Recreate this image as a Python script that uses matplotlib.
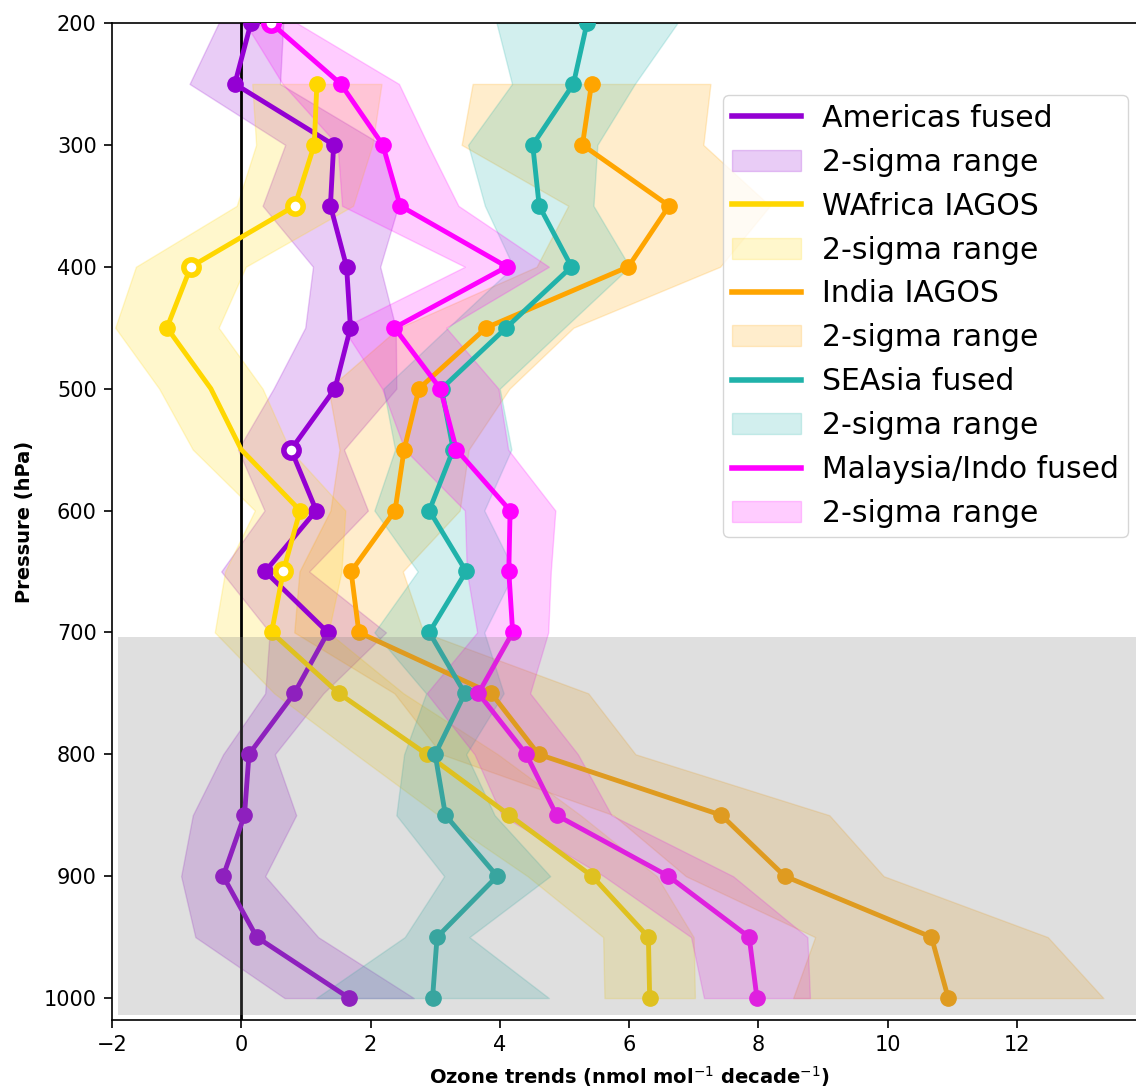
import numpy as np
import matplotlib
matplotlib.use("Agg")
import matplotlib.pyplot as plt
from matplotlib.lines import Line2D
from matplotlib.patches import Patch

nan = np.nan

# pressure levels (hPa)
pressure = [200, 250, 300, 350, 400, 450, 500, 550, 600,
            650, 700, 750, 800, 850, 900, 950, 1000]

# trends and 2-sigma half widths, one pair per region
americas = [0.15, -0.1, 1.43, 1.38, 1.63, 1.69, 1.45, 0.77, 1.16,
            0.37, 1.34, 0.82, 0.12, 0.05, -0.28, 0.24, 1.67]
americas_2s = [0.5, 0.7, 0.75, 1.05, 0.52, 0.7, 0.95, 0.82, 0.8,
               0.68, 0.9, 0.45, 0.4, 0.8, 0.65, 0.95, 1.0]

wafrica = [nan, 1.17, 1.13, 0.83, -0.78, -1.15, -0.47, 0.0, 0.91,
           0.65, 0.47, 1.51, 2.87, 4.15, 5.43, 6.3, 6.32]
wafrica_2s = [nan, 1.0, 0.9, 0.9, 0.85, 0.8, 0.8, 0.75, 0.7,
              0.9, 0.88, 1.0, 1.1, 1.1, 1.0, 0.7, 0.7]

india = [nan, 5.42, 5.28, 6.62, 5.99, 3.79, 2.75, 2.52, 2.38,
         1.70, 1.82, 3.87, 4.6, 7.43, 8.41, 10.68, 10.94]
india_2s = [nan, 1.84, 1.87, 1.56, 1.42, 1.35, 1.4, 1.0, 1.0,
            0.8, 1.0, 1.5, 1.5, 1.67, 1.53, 1.8, 2.4]

seasia = [5.35, 5.14, 4.51, 4.61, 5.11, 4.10, 3.1, 3.28, 2.91,
          3.48, 2.91, 3.46, 3.0, 3.16, 3.96, 3.03, 2.96]
seasia_2s = [1.4, 0.95, 1.0, 0.84, 0.9, 0.9, 0.9, 0.9, 0.85,
             0.75, 0.85, 0.6, 0.48, 0.76, 0.82, 0.5, 1.8]

malaysia = [0.46, 1.54, 2.19, 2.46, 4.11, 2.37, 3.08, 3.33, 4.16,
            4.14, 4.2, 3.67, 4.41, 4.88, 6.61, 7.86, 7.98]
malaysia_2s = [0.4, 0.9, 0.7, 0.9, 0.65, 0.8, 0.9, 0.8, 0.7,
               0.65, 0.55, 0.8, 0.8, 0.85, 1.0, 0.9, 0.82]

# levels where the trend is not significant (open markers)
americas_open = [550]
wafrica_open = [350, 400, 650]
malaysia_open = [200]
# WAfrica has no marker drawn at these levels
wafrica_nomark = [500, 550]

series = [
    ("Americas fused", americas, americas_2s, "darkviolet", americas_open, []),
    ("WAfrica IAGOS", wafrica, wafrica_2s, "gold", wafrica_open, wafrica_nomark),
    ("India IAGOS", india, india_2s, "orange", [], []),
    ("SEAsia fused", seasia, seasia_2s, "lightseagreen", [], []),
    ("Malaysia/Indo fused", malaysia, malaysia_2s, "magenta", malaysia_open, []),
]

fig = plt.figure(figsize=(11.36, 10.88), dpi=100)
ax = fig.add_axes([112 / 1136, 68 / 1088, 1034 / 1136, 997 / 1088])

p = np.array(pressure, dtype=float)
handles = []
for name, trend, sig, col, opens, nomark in series:
    t = np.array(trend, dtype=float)
    s = np.array(sig, dtype=float)
    ax.fill_betweenx(p, t - s, t + s, color=col, alpha=0.2, lw=1)
    ax.plot(t, p, color=col, lw=3.5, zorder=3)
    for i, lev in enumerate(pressure):
        if np.isnan(t[i]) or lev in nomark:
            continue
        if lev in opens:
            ax.plot(t[i], lev, "o", ms=11, mfc="white", mec=col, mew=4, zorder=4)
        else:
            ax.plot(t[i], lev, "o", ms=11, color=col, zorder=4)
    handles.append(Line2D([], [], color=col, lw=4, label=name))
    handles.append(Patch(facecolor=col, edgecolor=col, alpha=0.2, label="2-sigma range"))

ax.axvline(0, color="black", lw=2, zorder=2)

# boundary layer shading
ax.fill_between([-1.9, 14.5], 704, 1014, color="grey", alpha=0.25, lw=0, zorder=5)

ax.set_xlim(-2, 14)
ax.set_ylim(1018, 200)
ax.set_yticks(range(200, 1001, 100))
ax.set_xticks(range(-2, 13, 2))
ax.tick_params(labelsize=15, length=6, width=1.2, pad=5)
for sp in ax.spines.values():
    sp.set_linewidth(1.2)
ax.set_ylabel("Pressure (hPa)", fontsize=14, fontweight="bold", labelpad=7)
ax.set_xlabel(r"Ozone trends (nmol mol$^{-1}$ decade$^{-1}$)", fontsize=14,
              fontweight="bold", labelpad=6)

ax.legend(handles=handles, loc="upper left", bbox_to_anchor=(0.591, 0.928),
          borderaxespad=0, fontsize=21.5, handlelength=2.3, handletextpad=0.7,
          borderpad=0.3)

fig.savefig("out.png", dpi=100)
